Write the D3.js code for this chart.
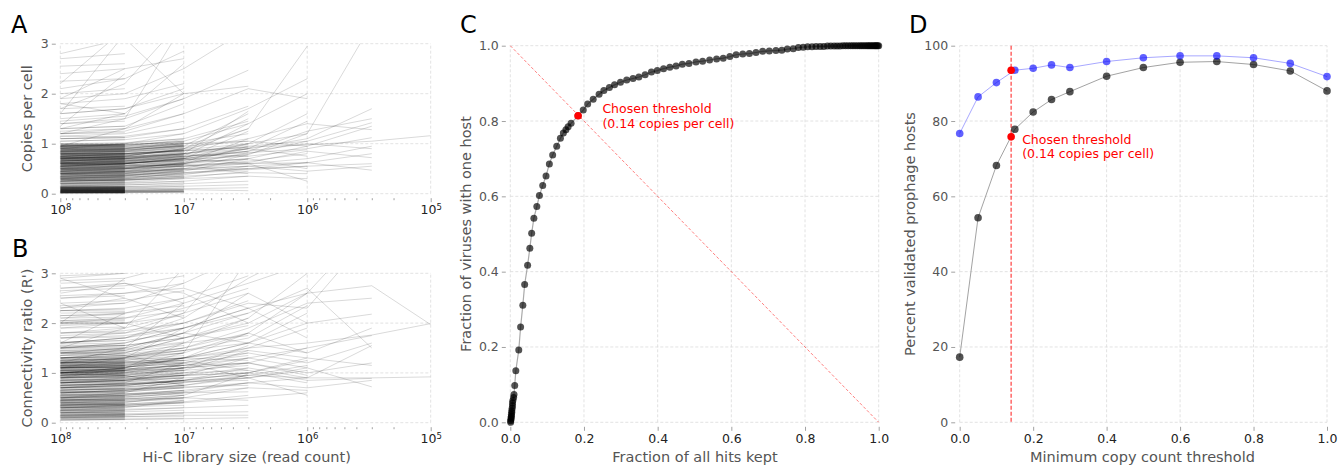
<!DOCTYPE html>
<html>
<head>
<meta charset="utf-8">
<script src="https://cdnjs.cloudflare.com/ajax/libs/d3/7.8.5/d3.min.js"></script>
<style>
body { margin: 0; background: #fff; }
svg { font-family: "DejaVu Sans", sans-serif; }
</style>
</head>
<body>
<div id="chart-area"></div>
<script>
// library sizes the Hi-C reads were downsampled to
var depths = [1e8, 3e7, 1e7, 3e6, 1e6, 3e5, 1e5];

// panel A: copies per cell, one row per virus (values at depths[0], depths[1], ...)
var copiesLines = [
  [0.74,0.8,0.86,0.93,0.98,1.05,1.16],
  [0.62,0.66,0.74,0.9,1.1,1.7],[0.55,0.6,0.7,0.85,1.25,1.5],[0.7,0.72,0.8,0.95,1.05,1.42],
  [0.48,0.52,0.6,0.7,0.95,1.35],[0.8,0.84,0.9,1.1,1.4,1.28],[0.66,0.7,0.75,0.82,0.9,1.12],
  [0.58,0.6,0.68,0.78,1.2,3.4],[0.45,0.5,0.55,0.6,0.7,0.95],[0.6,0.63,0.7,0.85,1.0,0.9],
  [0.38,0.42,0.5,0.6,0.62,0.8],[0.52,0.55,0.58,0.62,0.85,0.72],[0.3,0.35,0.4,0.48,0.55,0.6],
  [0.4,0.45,0.5,0.55,0.45,0.55],[0.33,0.36,0.42,0.5,0.62,0.47],
  [0.7,0.75,0.9,1.3,2.95],[0.9,1.0,1.2,1.7,2.3],[0.65,0.7,0.8,1.0,1.6],[0.55,0.6,0.7,0.9,1.45],
  [0.75,0.8,0.88,1.0,1.2],[0.5,0.52,0.6,0.8,1.05],[0.85,0.9,1.0,1.05,0.95],[0.6,0.62,0.68,0.75,0.88],
  [0.45,0.48,0.55,0.65,0.8],[0.72,0.74,0.8,0.9,0.75],[0.4,0.42,0.48,0.55,0.62],[0.35,0.38,0.42,0.5,0.55],
  [0.55,0.58,0.62,0.7,0.5],[0.28,0.3,0.35,0.42,0.4],[0.62,0.65,0.7,0.6,0.25],[1.2,1.3,1.6,2.1,1.9],
  [0.95,0.98,1.05,1.4,2.0],[0.25,0.28,0.3,0.35,0.3],
  [0.65,0.7,0.8,1.65],[0.8,0.85,0.95,1.6],[0.7,0.75,0.9,1.5],[0.6,0.62,0.75,1.4],[0.75,0.78,0.85,1.3],
  [0.55,0.6,0.7,1.25],[0.9,0.92,1.0,1.2],[0.5,0.55,0.62,1.1],[0.85,0.88,0.95,1.05],[0.62,0.65,0.72,1.0],
  [0.7,0.72,0.8,0.98],[0.45,0.5,0.6,0.95],[0.78,0.8,0.86,0.92],[0.58,0.6,0.66,0.9],[0.66,0.68,0.74,0.85],
  [0.52,0.55,0.6,0.82],[0.4,0.44,0.5,0.78],[0.72,0.74,0.78,0.75],[0.35,0.38,0.45,0.7],[0.6,0.62,0.65,0.68],
  [0.48,0.5,0.55,0.62],[0.3,0.33,0.38,0.55],[0.42,0.44,0.48,0.5],[0.25,0.28,0.32,0.45],[0.55,0.56,0.58,0.4],
  [0.2,0.22,0.25,0.35],[0.15,0.18,0.2,0.25],[0.12,0.14,0.15,0.18],[0.1,0.12,0.1,0.12],[0.08,0.09,0.08,0.06],
  [1.4,1.5,1.9,2.47],[1.6,1.7,2.0,2.15],[1.9,2.0,2.5,3.3],[1.1,1.15,1.3,1.75],[0.95,1.0,1.1,1.45],
  [0.02,0.02,0.03],[0.03,0.03,0.02],[0.04,0.03,0.05],[0.05,0.04,0.04],[0.06,0.05,0.07],[0.03,0.04,0.06],
  [0.07,0.06,0.05],[0.08,0.07,0.09],[0.05,0.06,0.08],[0.1,0.09,0.12],[0.12,0.11,0.15],[0.15,0.14,0.18],
  [0.18,0.17,0.22],[0.2,0.2,0.25],[0.22,0.23,0.3],[0.25,0.26,0.32],[0.28,0.28,0.35],[0.3,0.32,0.4],
  [0.32,0.33,0.38],[0.35,0.36,0.45],[0.38,0.4,0.48],[0.4,0.41,0.5],[0.42,0.44,0.55],[0.45,0.46,0.52],
  [0.48,0.5,0.6],[0.5,0.52,0.62],[0.52,0.53,0.58],[0.55,0.56,0.66],[0.57,0.6,0.7],[0.6,0.61,0.68],
  [0.62,0.64,0.75],[0.64,0.66,0.72],[0.66,0.68,0.8],[0.68,0.7,0.78],[0.7,0.72,0.85],[0.72,0.74,0.82],
  [0.74,0.76,0.88],[0.76,0.78,0.9],[0.78,0.8,0.86],[0.8,0.82,0.95],[0.82,0.84,0.92],[0.84,0.86,0.98],
  [0.86,0.88,0.94],[0.88,0.9,1.0],[0.9,0.92,0.97],[0.92,0.94,1.02],[0.94,0.95,0.99],[0.96,0.97,1.05],
  [0.98,0.99,1.01],[1.0,1.02,1.1],[1.05,1.08,1.2],[1.1,1.12,1.3],[1.15,1.2,1.45],[1.2,1.25,1.6],
  [1.3,1.35,1.8],[1.45,1.55,1.9],[1.6,1.7,2.1],[1.8,1.9,2.2],[1.3,1.6,2.6],[1.2,1.5,3.4],
  [2.1,2.3,2.85],[2.4,2.5,2.7],[2.8,3.1,2.0],[1.7,2.2,3.5],[0.95,1.3,2.0],
  [0.25,0.27,0.33],[0.3,0.3,0.36],[0.35,0.37,0.44],[0.4,0.4,0.46],[0.45,0.47,0.56],[0.5,0.5,0.57],
  [0.55,0.57,0.64],[0.6,0.6,0.67],[0.65,0.67,0.76],[0.7,0.7,0.77],[0.75,0.77,0.86],[0.8,0.8,0.87],
  [0.85,0.87,0.96],[0.9,0.9,0.96],[0.95,0.97,1.04],[0.58,0.6,0.72],[0.63,0.65,0.78],[0.68,0.7,0.83],
  [0.73,0.75,0.88],[0.78,0.8,0.93],[0.83,0.85,0.97],[0.88,0.9,1.03],[0.93,0.95,1.08],[0.48,0.5,0.62],
  [0.43,0.45,0.58],[0.38,0.4,0.52],[0.33,0.35,0.47],[0.28,0.3,0.42],[0.03,0.03,0.04],[0.06,0.06,0.05],
  [0.01,0.01],[0.02,0.01],[0.015,0.02],[0.03,0.02],[0.025,0.03],[0.04,0.03],[0.035,0.045],[0.05,0.04],
  [0.045,0.055],[0.06,0.05],[0.055,0.065],[0.07,0.06],[0.065,0.075],[0.08,0.07],[0.075,0.085],[0.09,0.08],
  [0.085,0.095],[0.1,0.09],[0.095,0.105],[0.11,0.1],[0.105,0.115],[0.12,0.11],[0.115,0.125],[0.13,0.12],
  [0.125,0.135],[0.14,0.13],[0.135,0.145],[0.15,0.14],[0.01,0.02],[0.02,0.035],[0.03,0.04],[0.045,0.06],
  [0.06,0.075],[0.075,0.09],[0.09,0.11],
  [0.01,0.015],[0.02,0.02],[0.03,0.025],[0.04,0.04],[0.05,0.05],[0.06,0.065],[0.07,0.07],[0.08,0.08],
  [0.09,0.09],[0.1,0.1],[0.11,0.11],[0.12,0.12],[0.13,0.13],[0.02,0.025],[0.04,0.045],[0.06,0.06],
  [0.08,0.085],[0.1,0.105],[0.12,0.125],[0.14,0.14],
  [0.17,0.16],[0.2,0.22],[0.23,0.21],[0.26,0.28],[0.28,0.26],[0.31,0.33],[0.33,0.31],[0.36,0.38],
  [0.39,0.37],[0.41,0.43],[0.44,0.42],[0.46,0.48],[0.49,0.47],[0.51,0.53],[0.54,0.52],[0.56,0.58],
  [0.59,0.57],[0.61,0.63],[0.63,0.61],[0.66,0.68],[0.68,0.67],[0.71,0.73],[0.73,0.71],[0.75,0.77],
  [0.77,0.76],[0.79,0.81],[0.81,0.79],[0.83,0.85],[0.85,0.84],[0.87,0.89],[0.89,0.87],[0.91,0.93],
  [0.93,0.92],[0.95,0.97],[0.97,0.96],[0.99,1.0],[1.0,0.98],
  [0.16,0.18],[0.19,0.18],[0.21,0.23],[0.24,0.24],[0.27,0.25],[0.29,0.3],[0.32,0.34],[0.34,0.33],
  [0.37,0.36],[0.4,0.41],[0.42,0.44],[0.45,0.44],[0.47,0.46],[0.5,0.49],[0.52,0.54],[0.55,0.55],
  [0.57,0.59],[0.6,0.58],[0.62,0.64],[0.64,0.63],[0.67,0.65],[0.69,0.71],[0.7,0.69],[0.72,0.74],
  [0.74,0.73],[0.76,0.78],[0.78,0.77],[0.8,0.82],[0.82,0.81],[0.84,0.86],[0.86,0.85],[0.88,0.9],
  [0.9,0.89],[0.92,0.94],[0.94,0.93],[0.96,0.98],[0.98,0.97],[0.65,0.66],[0.7,0.7],[0.75,0.74],
  [0.8,0.8],[0.85,0.87],[0.9,0.9],[0.95,0.95],[0.55,0.53],[0.6,0.6],[0.45,0.45],[0.35,0.35],
  [0.25,0.26],[0.3,0.28],[0.5,0.5],[0.4,0.38],[0.2,0.2],[0.97,0.99],[0.93,0.95],[0.87,0.88],
  [0.83,0.83],[0.79,0.79],[0.73,0.72],[0.68,0.69],
  [1.05,1.08],[1.1,1.12],[1.15,1.13],[1.2,1.22],[1.25,1.3],[1.3,1.35],[1.4,1.45],[1.5,1.6],
  [1.7,1.75],[2.0,2.1],[2.25,2.3],[2.55,2.6],[1.9,2.5],[1.6,3.2],[2.2,3.3],[1.35,2.4],[2.7,2.8],[1.8,1.6]
];

// panel B: connectivity ratio R', same layout
var ratioLines = [
  [1.5,1.6,1.9,2.3,2.6,2.75,1.97],[1.1,1.2,1.3,1.5,1.6,1.76,1.99],[0.8,0.85,0.9,0.95,0.9,0.9,0.92],
  [1.2,1.3,1.5,1.9,2.4,2.5],[1.0,1.1,1.3,1.6,2.0,2.18],[1.3,1.35,1.5,1.8,1.4,1.9],[0.9,0.95,1.1,1.3,1.5,1.75],
  [1.1,1.15,1.25,1.4,1.2,1.6],[0.8,0.85,0.95,1.1,0.9,1.55],[1.4,1.5,1.8,2.2,2.7,1.5],[1.0,1.05,1.1,1.2,1.0,1.2],
  [0.7,0.75,0.85,1.0,1.3,1.15],[0.9,0.92,1.0,1.05,0.85,0.89],[0.6,0.65,0.7,0.8,0.7,0.85],
  [0.75,0.78,0.82,0.9,1.1,0.72],[1.6,1.7,2.0,2.4,2.3,3.8],[1.3,1.4,1.7,2.0,2.6,4.0],
  [1.0,1.1,1.3,1.6,2.2],[1.2,1.25,1.4,1.8,2.6],[0.9,1.0,1.2,1.5,1.9],[1.3,1.4,1.7,2.1,3.0],
  [0.8,0.85,1.0,1.2,1.5],[1.1,1.15,1.3,1.45,1.3],[0.7,0.75,0.85,1.0,1.25],[1.0,1.05,1.15,1.3,1.1],
  [0.6,0.65,0.75,0.9,1.05],[0.95,1.0,1.1,1.2,0.95],[0.5,0.55,0.65,0.8,0.9],[0.85,0.9,0.95,1.0,0.8],
  [0.45,0.5,0.6,0.7,0.65],[0.75,0.8,0.85,0.9,0.55],[1.5,1.6,1.9,2.3,1.7],[1.8,1.9,2.2,2.6,2.0],
  [2.0,2.1,2.4,2.8,3.2],[1.4,1.5,1.8,1.6,1.4],[0.3,0.35,0.4,0.5,0.6],[1.6,1.7,2.1,2.9,3.5],
  [0.65,0.7,0.8,0.95,1.15],[1.25,1.3,1.45,1.7,2.35],
  [0.9,0.95,1.05,1.45],[1.0,1.05,1.15,1.4],[1.1,1.12,1.2,1.35],[0.8,0.85,0.95,1.3],[1.05,1.08,1.15,1.2],
  [0.95,1.0,1.05,1.15],[0.7,0.75,0.85,1.1],[1.15,1.2,1.25,1.05],[0.85,0.88,0.95,1.0],[0.6,0.65,0.75,0.95],
  [1.2,1.22,1.2,0.9],[0.75,0.78,0.82,0.85],[0.5,0.55,0.62,0.8],[0.65,0.68,0.72,0.75],[0.4,0.45,0.5,0.7],
  [0.55,0.58,0.6,0.62],[0.3,0.35,0.42,0.55],[0.45,0.48,0.5,0.45],[0.2,0.25,0.3,0.35],[0.15,0.18,0.2,0.22],
  [0.1,0.12,0.15,0.15],[1.3,1.35,1.45,1.6],[1.4,1.45,1.6,1.75],[1.5,1.55,1.7,1.95],[1.6,1.7,1.9,2.2],
  [1.75,1.8,2.0,2.45],[1.9,2.0,2.3,2.7],[2.1,2.2,2.5,2.95],[2.3,2.4,2.8,3.4],[1.2,1.3,1.6,2.1],
  [0.95,1.05,1.3,1.8],[1.35,1.45,1.8,2.6],[2.5,2.6,2.7,2.3],[2.7,2.8,2.6,2.0],[1.0,1.1,1.4,3.3],
  [0.8,0.9,1.1,1.55],[1.25,1.28,1.3,1.25],[0.35,0.4,0.55,0.98],[0.05,0.07,0.08,0.1],[1.7,1.8,2.2,3.6],
  [0.06,0.07,0.08],[0.1,0.12,0.12],[0.15,0.16,0.18],[0.2,0.22,0.25],[0.25,0.27,0.3],[0.3,0.32,0.35],
  [0.33,0.35,0.4],[0.36,0.38,0.42],[0.4,0.42,0.48],[0.43,0.45,0.5],[0.46,0.48,0.55],[0.5,0.52,0.58],
  [0.53,0.55,0.62],[0.56,0.58,0.65],[0.6,0.62,0.7],[0.63,0.65,0.72],[0.66,0.68,0.76],[0.7,0.72,0.8],
  [0.73,0.75,0.84],[0.76,0.78,0.86],[0.8,0.82,0.9],[0.83,0.85,0.92],[0.86,0.88,0.96],[0.9,0.92,0.98],
  [0.93,0.95,1.02],[0.96,0.98,1.05],[1.0,1.02,1.08],[1.03,1.05,1.1],[1.06,1.08,1.15],[1.1,1.12,1.18],
  [1.13,1.15,1.22],[1.16,1.18,1.25],[1.2,1.22,1.3],[1.23,1.25,1.35],[1.26,1.28,1.4],[1.3,1.32,1.45],
  [1.35,1.38,1.5],[1.4,1.42,1.55],[1.45,1.48,1.62],[1.5,1.55,1.7],[1.6,1.65,1.8],[1.7,1.75,1.9],
  [1.8,1.85,2.0],[1.95,2.0,2.15],[2.05,2.1,2.25],[2.15,2.2,2.35],[2.25,2.3,2.5],[2.4,2.45,2.65],
  [2.55,2.6,2.8],[2.7,2.75,2.95],[2.85,2.9,3.2],[1.1,1.3,1.9],[0.9,1.1,1.6],[1.2,1.5,2.4],
  [1.5,1.9,3.1],[2.3,2.5,2.1],[2.6,2.8,2.4],[0.7,0.8,1.2],[0.5,0.6,0.9],[1.0,0.95,0.75],
  [1.4,1.35,1.1],[2.0,2.0,1.7],[0.25,0.3,0.45],[0.12,0.15,0.2],[2.9,3.0,3.3],
  [0.3,0.32,0.4],[0.4,0.42,0.5],[0.5,0.52,0.6],[0.6,0.62,0.7],[0.7,0.72,0.8],[0.8,0.82,0.9],
  [0.9,0.92,1.0],[1.0,1.02,1.1],[1.1,1.12,1.2],[1.2,1.22,1.3],[1.3,1.32,1.4],[0.95,0.97,1.06],
  [1.05,1.07,1.16],[1.15,1.17,1.26],[0.85,0.87,0.95],[0.75,0.77,0.85],[0.65,0.67,0.75],[0.55,0.57,0.65],
  [0.45,0.47,0.55],[0.35,0.37,0.45],
  [0.05,0.06],[0.07,0.07],[0.08,0.09],[0.1,0.1],[0.11,0.12],[0.13,0.13],[0.14,0.15],[0.16,0.16],
  [0.17,0.18],[0.19,0.19],[0.2,0.21],[0.22,0.22],[0.24,0.23],[0.25,0.26],[0.27,0.27],[0.29,0.28],
  [0.3,0.31],[0.32,0.32],[0.34,0.33],[0.35,0.36],[0.37,0.37],[0.38,0.39],[0.4,0.4],[0.42,0.41],
  [0.44,0.45],[0.46,0.46],[0.48,0.47],[0.5,0.51],[0.52,0.52],[0.55,0.54],[0.57,0.58],[0.6,0.6],
  [0.63,0.62],[0.66,0.67],[0.7,0.69],
  [0.09,0.1],[0.12,0.13],[0.15,0.15],[0.18,0.17],[0.21,0.2],[0.23,0.24],[0.26,0.25],[0.28,0.29],
  [0.31,0.3],[0.33,0.34],[0.36,0.35],[0.39,0.38],[0.41,0.42],[0.43,0.44],[0.45,0.44],[0.47,0.48],
  [0.49,0.5],[0.53,0.53],[0.56,0.55],[0.59,0.6],[0.35,0.37],[0.38,0.37],[0.15,0.16],[0.2,0.19],[0.25,0.24],
  [0.88,0.9],[0.92,0.93],[0.95,0.96],[0.98,0.99],[1.0,1.0],[1.02,1.03],[1.04,1.05],[1.06,1.07],
  [1.08,1.09],[1.1,1.1],[1.12,1.13],[1.14,1.15],[1.16,1.17],[1.18,1.19],[1.2,1.2],[1.22,1.23],
  [1.25,1.26],[1.28,1.28],[1.31,1.32],[1.35,1.36],
  [0.9,0.91],[0.93,0.94],[0.96,0.97],[0.99,1.0],[1.01,1.02],[1.03,1.04],[1.05,1.06],[1.07,1.08],
  [1.09,1.1],[1.11,1.12],[1.13,1.14],[1.15,1.16],[1.17,1.18],[1.19,1.2],[1.21,1.22],[1.23,1.24],
  [1.26,1.27],[1.29,1.3],[1.0,1.02],[1.05,1.04],[1.1,1.11],[1.15,1.14],[1.2,1.21],[0.97,0.95],[1.12,1.1],
  [0.62,0.63],[0.68,0.68],[0.72,0.73],[0.78,0.78],[0.82,0.83],[0.86,0.86],[1.38,1.4],[1.43,1.45],
  [1.48,1.5],[1.53,1.55],[1.58,1.6],[2.0,2.02],[2.05,2.07],[2.15,2.17],[2.25,2.24],
  [0.75,0.76],[0.8,0.8],[0.84,0.85],[1.4,1.42],[1.45,1.47],[1.5,1.52],[1.55,1.56],[1.62,1.65],
  [1.7,1.72],[1.8,1.82],[1.9,1.92],[1.98,2.0],[2.02,2.05],[2.1,2.12],[2.2,2.22],[2.25,2.28],
  [2.35,2.4],[2.5,2.55],[2.65,2.7],[2.8,2.85],[2.95,3.0],[1.6,2.2],[2.0,2.9],[2.4,1.9],[2.9,2.5]
];

// panel C: one point per copy-count threshold
var hitsKept = [0.001,0.001,0.002,0.002,0.003,0.003,0.004,0.004,0.005,0.006,0.006,0.007,0.009,
  0.010,0.012,0.015,0.023,0.028,0.034,0.039,0.047,0.053,0.058,0.064,0.072,0.079,0.088,0.097,0.106,
  0.115,0.126,0.136,0.144,0.151,0.157,0.165,0.184,0.198,0.210,0.225,0.241,0.254,0.269,0.283,0.299,
  0.316,0.333,0.349,0.366,0.383,0.399,0.416,0.433,0.450,0.467,0.485,0.504,0.522,0.541,0.560,0.578,
  0.596,0.613,0.631,0.649,0.667,0.685,0.703,0.721,0.737,0.752,0.768,0.782,0.795,0.807,0.819,0.830,
  0.841,0.851,0.861,0.870,0.879,0.887,0.895,0.903,0.910,0.917,0.924,0.930,0.936,0.942,0.948,0.953,
  0.958,0.963,0.968,0.972,0.976,0.980,0.984,0.988,0.991,0.994,0.997,1.0];
var singleHost = [0.000,0.004,0.008,0.012,0.016,0.021,0.026,0.031,0.037,0.044,0.051,0.058,0.066,
  0.074,0.098,0.137,0.192,0.253,0.311,0.366,0.417,0.462,0.502,0.542,0.573,0.602,0.629,0.654,0.686,
  0.710,0.733,0.754,0.768,0.777,0.785,0.794,0.814,0.829,0.845,0.858,0.871,0.881,0.889,0.896,0.903,
  0.909,0.913,0.917,0.923,0.930,0.934,0.939,0.943,0.946,0.951,0.953,0.957,0.959,0.962,0.965,0.967,
  0.971,0.976,0.978,0.979,0.982,0.985,0.986,0.987,0.988,0.991,0.992,0.995,0.996,0.997,0.997,0.998,
  0.998,0.998,0.999,0.999,0.999,0.999,0.999,1.0,1.0,1.0,1.0,1.0,1.0,1.0,1.0,1.0,
  1.0,1.0,1.0,1.0,1.0,1.0,1.0,1.0,1.0,1.0,1.0,1.0];

// panel D
var thresholds = [0, 0.05, 0.1, 0.15, 0.2, 0.25, 0.3, 0.4, 0.5, 0.6, 0.7, 0.8, 0.9, 1.0];
var pctAll = [17.3, 54.3, 68.2, 77.8, 82.4, 85.7, 87.8, 91.9, 94.2, 95.6, 95.8, 95.0, 93.3, 88.0];
var pctBlue = [76.7, 86.4, 90.2, 93.5, 94.0, 94.9, 94.2, 95.8, 96.8, 97.3, 97.3, 96.8, 95.3, 91.8];

// chosen threshold
var chosenThreshold = 0.14;
var chosenKept = 0.184, chosenSingle = 0.814;
var chosenAll = 75.8, chosenBlue = 93.5;

var svg = d3.select('#chart-area')
    .append('svg')
        .attr('width', 1338)
        .attr('height', 466);

var gridColor = '#dadada';
var tickOffset = 4.5;

function drawGrid(g, x, y, xv, yv) {
    g.selectAll(null).data(xv).enter().append('line')
        .attr('x1', d => x(d)).attr('x2', d => x(d))
        .attr('y1', y.range()[0]).attr('y2', y.range()[1])
        .attr('stroke', gridColor).attr('stroke-width', 0.8).attr('stroke-dasharray', '3,2');
    g.selectAll(null).data(yv).enter().append('line')
        .attr('y1', d => y(d)).attr('y2', d => y(d))
        .attr('x1', x.range()[0]).attr('x2', x.range()[1])
        .attr('stroke', gridColor).attr('stroke-width', 0.8).attr('stroke-dasharray', '3,2');
}

function styleAxis(a, color) {
    a.select('.domain').remove();
    a.selectAll('.tick line').attr('stroke', '#8a8a8a').attr('stroke-width', 0.8);
    a.selectAll('.tick text')
        .attr('fill', color)
        .style('font-size', '12.5px')
        .style('font-family', '"DejaVu Sans", sans-serif');
}

function yAxis(x, y, values, fmt) {
    var a = svg.append('g')
        .attr('transform', 'translate(' + (x.range()[0] - tickOffset) + ',0)')
        .call(d3.axisLeft(y).tickValues(values).tickFormat(fmt).tickSize(4).tickPadding(3));
    styleAxis(a, '#555');
}

function xAxis(x, y, values, fmt) {
    var a = svg.append('g')
        .attr('transform', 'translate(0,' + (y.range()[0] + tickOffset) + ')')
        .call(d3.axisBottom(x).tickValues(values).tickFormat(fmt).tickSize(4).tickPadding(3));
    styleAxis(a, '#222');
    return a;
}

function yLabel(text, cx, cy) {
    svg.append('text')
        .attr('transform', 'translate(' + cx + ',' + cy + ') rotate(-90)')
        .attr('text-anchor', 'middle')
        .attr('dy', '0.35em')
        .attr('fill', '#555')
        .style('font-size', '14.5px')
        .text(text);
}

function xLabel(text, cx, by) {
    svg.append('text')
        .attr('x', cx).attr('y', by)
        .attr('text-anchor', 'middle')
        .attr('fill', '#555')
        .style('font-size', '14.5px')
        .text(text);
}

function letter(t, x, y) {
    svg.append('text').attr('x', x).attr('y', y)
        .style('font-size', '24px').attr('fill', '#000').text(t);
}

// ---------- panels A and B ----------
var depthX = d3.scaleLog().domain([1e8, 1e5]).range([60.3, 430.7]);
var minorTicks = [];
[1e5, 1e6, 1e7].forEach(b => { for (var k = 2; k < 10; k++) minorTicks.push(b * k); });

function depthPanel(lines, top, bottom, id) {
    var y = d3.scaleLinear().domain([0, 3]).range([bottom, top]);
    var g = svg.append('g');
    drawGrid(g, depthX, y, [1e8, 1e7, 1e6, 1e5], [0, 1, 2, 3]);

    svg.append('clipPath').attr('id', id)
        .append('rect')
            .attr('x', depthX.range()[0]).attr('y', top)
            .attr('width', depthX.range()[1] - depthX.range()[0])
            .attr('height', bottom - top);

    var line = d3.line()
        .x((d, i) => depthX(depths[i]))
        .y(d => y(d));

    g.append('g').attr('clip-path', 'url(#' + id + ')')
        .selectAll('path')
        .data(lines)
        .enter().append('path')
            .attr('d', line)
            .attr('fill', 'none')
            .attr('stroke', '#000')
            .attr('stroke-opacity', 0.15)
            .attr('stroke-width', 1);

    yAxis(depthX, y, [0, 1, 2, 3], d3.format('d'));

    var minor = svg.append('g')
        .attr('transform', 'translate(0,' + (bottom + tickOffset) + ')')
        .call(d3.axisBottom(depthX).tickValues(minorTicks).tickFormat('').tickSize(2));
    styleAxis(minor, '#222');

    var ax = xAxis(depthX, y, [1e8, 1e7, 1e6, 1e5], '');
    ax.selectAll('.tick text').each(function(d) {
        var t = d3.select(this);
        t.append('tspan').text('10');
        t.append('tspan').attr('dy', '-0.45em').style('font-size', '8.5px')
            .text(Math.round(Math.log10(d)));
    });
    return y;
}

depthPanel(copiesLines, 43.7, 193.7, 'clipA');
depthPanel(ratioLines, 273.3, 422.7, 'clipB');
yLabel('Copies per cell', 27, 118.7);
yLabel("Connectivity ratio (R')", 27, 348);
xLabel('Hi-C library size (read count)', 246.7, 462);
letter('A', 11, 33);
letter('B', 12, 257);

// ---------- panel C ----------
var xC = d3.scaleLinear().domain([0, 1]).range([510.3, 878.7]);
var yC = d3.scaleLinear().domain([0, 1]).range([422.3, 45.7]);
var gC = svg.append('g');
drawGrid(gC, xC, yC, d3.range(0, 1.01, 0.2), d3.range(0, 1.01, 0.2));

gC.append('line')
    .attr('x1', xC(0)).attr('y1', yC(1)).attr('x2', xC(1)).attr('y2', yC(0))
    .attr('stroke', '#ff0000').attr('stroke-opacity', 0.5)
    .attr('stroke-width', 1).attr('stroke-dasharray', '3,2');

var curveC = hitsKept.map((d, i) => [d, singleHost[i]]);
gC.append('path')
    .attr('d', d3.line().x(d => xC(d[0])).y(d => yC(d[1]))(curveC))
    .attr('fill', 'none').attr('stroke', '#aaa').attr('stroke-width', 1.2);
gC.selectAll('circle').data(curveC).enter().append('circle')
    .attr('cx', d => xC(d[0])).attr('cy', d => yC(d[1])).attr('r', 3.5)
    .attr('fill', '#000').attr('fill-opacity', 0.68);
gC.append('circle')
    .attr('cx', xC(chosenKept)).attr('cy', yC(chosenSingle)).attr('r', 3.8)
    .attr('fill', '#ff0000');
var annC = gC.append('text').attr('fill', '#ff0000').style('font-size', '12.5px');
annC.append('tspan').attr('x', xC(0.25)).attr('y', yC(0.82)).text('Chosen threshold');
annC.append('tspan').attr('x', xC(0.25)).attr('dy', 14.5).text('(0.14 copies per cell)');

yAxis(xC, yC, d3.range(0, 1.01, 0.2), d3.format('.1f'));
xAxis(xC, yC, d3.range(0, 1.01, 0.2), d3.format('.1f'));
yLabel('Fraction of viruses with one host', 466, 234);
xLabel('Fraction of all hits kept', 695, 462);
letter('C', 460, 33);

// ---------- panel D ----------
var xD = d3.scaleLinear().domain([0, 1]).range([959.7, 1327]);
var yD = d3.scaleLinear().domain([0, 100]).range([422.3, 45.7]);
var gD = svg.append('g');
drawGrid(gD, xD, yD, d3.range(0, 1.01, 0.2), d3.range(0, 101, 20));

gD.append('line')
    .attr('x1', xD(chosenThreshold)).attr('x2', xD(chosenThreshold))
    .attr('y1', yD(100)).attr('y2', yD(0))
    .attr('stroke', '#ff0000').attr('stroke-opacity', 0.75)
    .attr('stroke-width', 1.2).attr('stroke-dasharray', '4,2');

function series(vals, lineColor, dotColor, dotOpacity) {
    var pts = thresholds.map((t, i) => [t, vals[i]]);
    gD.append('path')
        .attr('d', d3.line().x(d => xD(d[0])).y(d => yD(d[1]))(pts))
        .attr('fill', 'none').attr('stroke', lineColor).attr('stroke-width', 1);
    gD.append('g').selectAll('circle').data(pts).enter().append('circle')
        .attr('cx', d => xD(d[0])).attr('cy', d => yD(d[1])).attr('r', 3.8)
        .attr('fill', dotColor).attr('fill-opacity', dotOpacity);
}
series(pctAll, '#a3a3a3', '#000', 0.68);
series(pctBlue, '#a8a8ff', '#0000ff', 0.62);

gD.selectAll(null).data([chosenAll, chosenBlue]).enter().append('circle')
    .attr('cx', xD(chosenThreshold)).attr('cy', d => yD(d)).attr('r', 3.8)
    .attr('fill', '#ff0000');
var annD = gD.append('text').attr('fill', '#ff0000').style('font-size', '12.5px');
annD.append('tspan').attr('x', xD(0.17)).attr('y', yD(74)).text('Chosen threshold');
annD.append('tspan').attr('x', xD(0.17)).attr('dy', 14.5).text('(0.14 copies per cell)');

yAxis(xD, yD, d3.range(0, 101, 20), d3.format('d'));
xAxis(xD, yD, d3.range(0, 1.01, 0.2), d3.format('.1f'));
yLabel('Percent validated prophage hosts', 910, 234);
xLabel('Minimum copy count threshold', 1142.5, 462);
letter('D', 909, 33);
</script>
</body>
</html>
